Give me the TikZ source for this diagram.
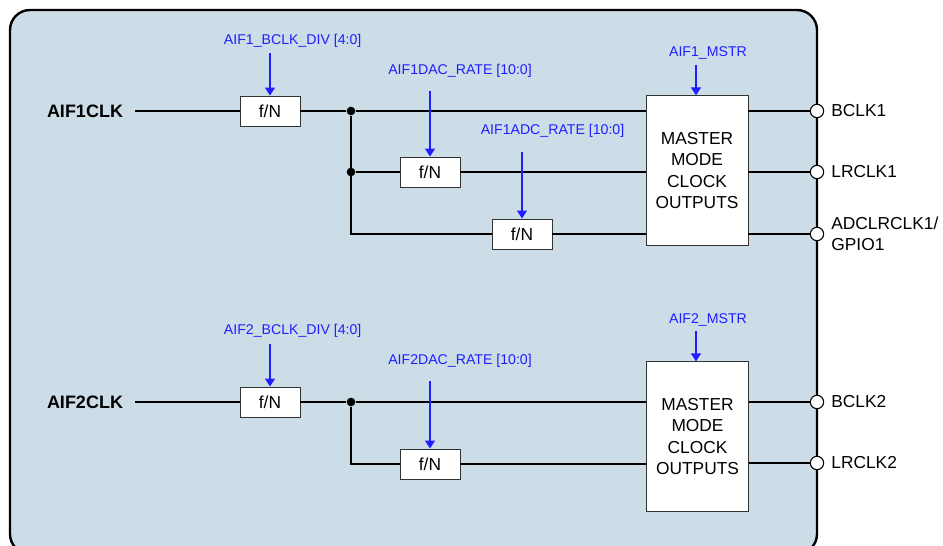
\documentclass[tikz,border=0pt]{standalone}
\usepackage{fontspec}
\setmainfont{Liberation Sans}
\usetikzlibrary{arrows.meta,positioning}
\definecolor{panelfill}{RGB}{204,221,232}
\definecolor{regblue}{RGB}{30,30,255}

\begin{document}
\begin{tikzpicture}[x=0.75pt, y=-0.75pt,
  divbox/.style={draw=black!80, line width=0.7pt, fill=white, minimum width=45pt, minimum height=22.5pt, inner sep=0pt, font=\fontsize{13}{15}\selectfont},
  mstrbox/.style={draw=black!80, line width=0.7pt, fill=white, minimum width=76.5pt, minimum height=112pt, inner sep=0pt, align=center, font=\fontsize{13}{16}\selectfont},
  pin/.style={circle, draw, fill=white, line width=0.8pt, inner sep=0pt, minimum size=10pt},
  junction/.style={circle, fill, inner sep=0pt, minimum size=6.5pt},
  reg/.style={text=regblue, inner sep=2pt, font=\fontsize{10.6}{12}\selectfont},
  ctrl/.style={draw=regblue, line width=1pt, -{Triangle[length=6pt,width=7.5pt]}},
  sig/.style={line width=1pt},
  outlabel/.style={align=left, inner sep=0pt, font=\fontsize{13}{16}\selectfont},
  inlabel/.style={outer xsep=6pt, font=\bfseries\fontsize{13.5}{16}\selectfont}
]
\useasboundingbox (0,0) rectangle (943,546);

% ---------- panel ----------
\draw[fill=panelfill, line width=1.8pt, rounded corners=15pt] (10,10) rectangle (817,554);

% ---------- AIF1 ----------
\node[inlabel] (aif1clk) at (85,111) {AIF1CLK};
\node[divbox] (div1) at (270,111) {f/N};
\node[junction] (dot1a) at (351,111) {};
\node[junction] (dot1b) at (351,172) {};
\node[divbox] (dac1) at (430,172) {f/N};
\node[divbox] (adc1) at (522,234) {f/N};
\node[mstrbox] (master1) at (697,170.5) {MASTER\\MODE\\CLOCK\\OUTPUTS};

\node[pin] (bclk1) at (817,111) {};
\node[pin] (lrclk1) at (817,172) {};
\node[pin] (adclr1) at (817,234) {};
\node[outlabel, right=5.2pt of bclk1] (bclk1lbl) {BCLK1};
\node[outlabel, right=5.2pt of lrclk1] (lrclk1lbl) {LRCLK1};
\node[outlabel, right=5.2pt of adclr1] (adclr1lbl) {ADCLRCLK1/\\GPIO1};

\draw[sig] (aif1clk) -- (div1);
\draw[sig] (div1) -- (dot1a) -- (master1.west |- dot1a);
\draw[sig] (dot1a) |- (adc1);
\draw[sig] (dot1b) -- (dac1) -- (master1.west |- dac1);
\draw[sig] (adc1) -- (master1.west |- adc1);
\draw[sig] (master1.east |- bclk1) -- (bclk1);
\draw[sig] (master1.east |- lrclk1) -- (lrclk1);
\draw[sig] (master1.east |- adclr1) -- (adclr1);

\node[reg, anchor=west] (bdiv1lbl) at (221,41) {AIF1\_BCLK\_DIV [4:0]};
\node[reg] (dac1lbl) at (460,71) {AIF1DAC\_RATE [10:0]};
\node[reg] (adc1lbl) at (552.5,131) {AIF1ADC\_RATE [10:0]};
\node[reg] (mstr1lbl) at (708,53) {AIF1\_MSTR};
\coordinate (bdiv1in) at (270,53);
\coordinate (dac1in) at (430,91);
\coordinate (adc1in) at (522,152);
\coordinate (mstr1in) at (696,65);
\draw[ctrl] (bdiv1in) -- (div1);
\draw[ctrl] (dac1in) -- (dac1);
\draw[ctrl] (adc1in) -- (adc1);
\draw[ctrl] (mstr1in) -- (mstr1in |- master1.north);

% ---------- AIF2 ----------
\node[inlabel] (aif2clk) at (85,402) {AIF2CLK};
\node[divbox] (div2) at (270,402) {f/N};
\node[junction] (dot2) at (351,402) {};
\node[divbox] (dac2) at (430,464) {f/N};
\node[mstrbox] (master2) at (697.5,436.5) {MASTER\\MODE\\CLOCK\\OUTPUTS};

\node[pin] (bclk2) at (817,402) {};
\node[pin] (lrclk2) at (817,463) {};
\node[outlabel, right=5.2pt of bclk2] (bclk2lbl) {BCLK2};
\node[outlabel, right=5.2pt of lrclk2] (lrclk2lbl) {LRCLK2};

\draw[sig] (aif2clk) -- (div2);
\draw[sig] (div2) -- (dot2) -- (master2.west |- dot2);
\draw[sig] (dot2) |- (dac2);
\draw[sig] (dac2) -- (master2.west |- dac2);
\draw[sig] (master2.east |- bclk2) -- (bclk2);
\draw[sig] (master2.east |- lrclk2) -- (lrclk2);

\node[reg, anchor=west] (bdiv2lbl) at (221,331) {AIF2\_BCLK\_DIV [4:0]};
\node[reg] (dac2lbl) at (460,361) {AIF2DAC\_RATE [10:0]};
\node[reg] (mstr2lbl) at (708,320) {AIF2\_MSTR};
\coordinate (bdiv2in) at (270,344);
\coordinate (dac2in) at (430,381);
\coordinate (mstr2in) at (696,331);
\draw[ctrl] (bdiv2in) -- (div2);
\draw[ctrl] (dac2in) -- (dac2);
\draw[ctrl] (mstr2in) -- (mstr2in |- master2.north);

\end{tikzpicture}
\end{document}
